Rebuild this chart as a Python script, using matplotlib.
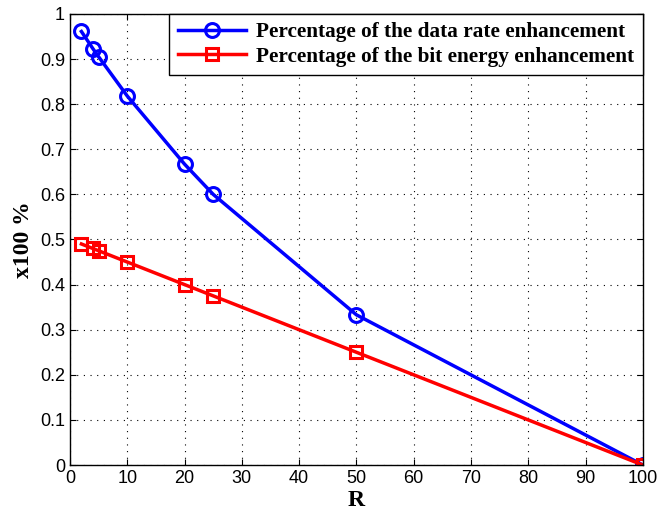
import numpy as np
import matplotlib
matplotlib.use("Agg")
import matplotlib.pyplot as plt

# --- DATA ---
R = [2, 4, 5, 10, 20, 25, 50, 100]
rate_gain = [0.961, 0.923, 0.905, 0.818, 0.667, 0.600, 0.333, 0.0]
energy_gain = [0.490, 0.480, 0.475, 0.450, 0.400, 0.375, 0.250, 0.0]
x_ticks = [0, 10, 20, 30, 40, 50, 60, 70, 80, 90, 100]
y_ticks = [0, 0.1, 0.2, 0.3, 0.4, 0.5, 0.6, 0.7, 0.8, 0.9, 1]

fig = plt.figure(figsize=(6.57, 5.15), dpi=100)
ax = fig.add_axes([0.1065, 0.097, 0.872, 0.876])

ax.plot(R, rate_gain, '-o', color='blue', lw=2.5, ms=10, mfc='none', mew=2.2,
        label='Percentage of the data rate enhancement')
ax.plot(R, energy_gain, '-s', color='red', lw=2.5, ms=8.5, mfc='none', mew=2.2,
        label='Percentage of the bit energy enhancement')

ax.set_xlim(0, 100)
ax.set_ylim(0, 1)
ax.set_xticks(x_ticks)
ax.set_yticks(y_ticks)
ax.set_yticklabels(['0', '0.1', '0.2', '0.3', '0.4', '0.5', '0.6', '0.7', '0.8', '0.9', '1'])
ax.tick_params(labelsize=13, direction='in', length=4, top=True, right=True)
for lbl in ax.get_xticklabels() + ax.get_yticklabels():
    lbl.set_family('Liberation Sans')
ax.grid(True, linestyle=(0, (1, 5)), color='black', lw=0.8)
for s in ax.spines.values():
    s.set_linewidth(1.0)

ax.set_xlabel('R', fontsize=17, fontweight='bold', family='Liberation Serif', labelpad=2)
ax.set_ylabel('x100 %', fontsize=17, fontweight='bold', family='Liberation Serif', labelpad=4)

leg = ax.legend(loc='upper right', borderaxespad=0, fancybox=False, framealpha=1,
                prop={'family': 'Liberation Serif', 'weight': 'bold', 'size': 15.3},
                handlelength=3.2, borderpad=0.4, labelspacing=0.2, handletextpad=0.5)
leg.get_frame().set_edgecolor('black')
leg.get_frame().set_linewidth(1.0)

plt.savefig('out.png', dpi=100)
